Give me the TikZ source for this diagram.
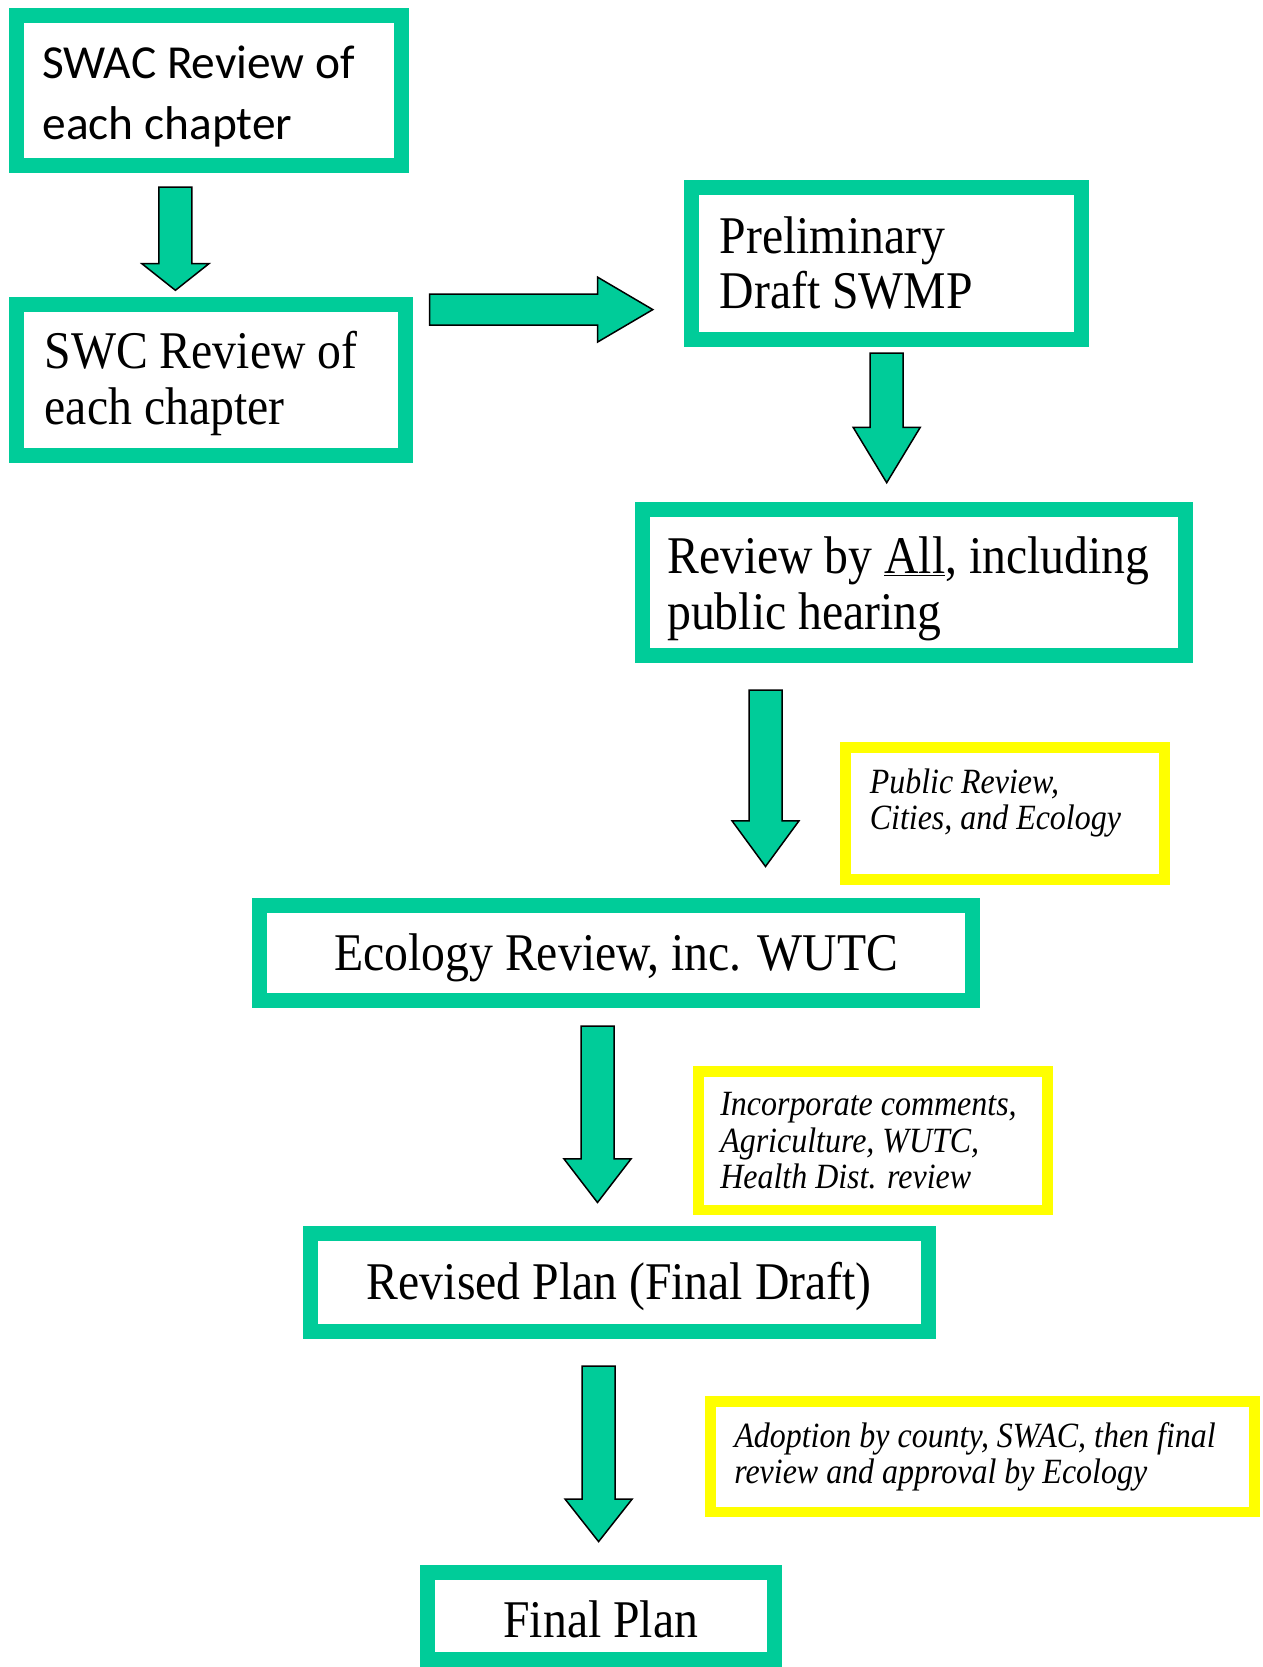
\documentclass[tikz,border=0pt]{standalone}
\usepackage{fontspec}
\setmainfont[FakeStretch=0.9]{Liberation Serif}
\newfontfamily\calibrifont{Carlito}
\usepackage{tikz}
\usetikzlibrary{calc}

\definecolor{stagegreen}{RGB}{0,204,153}
\definecolor{noteyellow}{RGB}{255,255,0}

\tikzset{
  stagebox/.style={draw=stagegreen, line width=15pt, rectangle, inner ysep=0pt,
    font=\fontsize{53}{55.5}\selectfont},
  notebox/.style={draw=noteyellow, line width=10.6pt, rectangle, inner ysep=0pt,
    align=flush left, font=\fontsize{35.5}{36.5}\selectfont\itshape},
  textdown/.style={execute at begin node={\rule{0pt}{#1}}},
  textup/.style={execute at end node={\par\vspace*{#1}}},
  blockarrow/.style={fill=stagegreen, draw=black, line width=1.5pt, line join=miter}
}

% block arrow pointing down: start, tip, head length
\newcommand{\blockdown}[3]{%
  \draw[blockarrow] let \p1=(#1), \p2=(#2) in
    (\x1-16.5pt,\y1) -- (\x1+16.5pt,\y1) -- (\x1+16.5pt,\y2+#3pt)
    -- (\x1+33.5pt,\y2+#3pt) -- (\x2,\y2) -- (\x1-33.5pt,\y2+#3pt)
    -- (\x1-16.5pt,\y2+#3pt) -- cycle;}

\begin{document}
\hyphenpenalty=10000
\begin{tikzpicture}[x=1pt, y=-1pt]
	\useasboundingbox (0,0) rectangle (1262,1667);

	% Drawing the stage boxes
	\node[stagebox, align=flush left, inner xsep=26.5pt, text width=332.8pt, minimum height=149.8pt,
	  textdown=44.3pt, font=\calibrifont\fontsize{47.4}{61}\selectfont] (swac) at (208.9,90.9)
	  {SWAC Review of\\each chapter};
	\node[stagebox, align=flush left, inner xsep=28.7pt, text width=331.6pt, minimum height=150.9pt,
	  textdown=44.8pt] (swc) at (210.5,379.6) {SWC Review of\\each chapter};
	\node[stagebox, align=flush left, inner xsep=28.7pt, text width=332.7pt, minimum height=151.9pt]
	  (prelim) at (886.2,263.2) {Preliminary\\Draft SWMP};
	\node[stagebox, align=flush left, inner xsep=25pt, text width=493.2pt, minimum height=146.6pt,
	  textdown=49pt] (all) at (913.8,582.6) {Review by \underline{All}, including\\public hearing};
	\node[stagebox, minimum width=713.3pt, minimum height=94.5pt, text height=46.5pt, text depth=11.5pt]
	  (ecology) at (616.2,953.2) {Ecology Review, inc. WUTC};
	\node[stagebox, minimum width=617.6pt, minimum height=97.7pt, text height=46.5pt, text depth=11.5pt]
	  (revised) at (619.3,1282.3) {Revised Plan (Final Draft)};
	\node[stagebox, minimum width=346.5pt, minimum height=87pt, text height=42pt, text depth=0pt]
	  (final) at (600.8,1616) {Final Plan};

	% Drawing the notes
	\node[notebox, inner xsep=24.4pt, text width=270pt, minimum height=132pt, textup=21pt]
	  (publicnote) at (1004.8,813.3) {Public Review,\\Cities, and Ecology};
	\node[notebox, inner xsep=22pt, text width=305pt, minimum height=138.2pt]
	  (commentnote) at (872.8,1140.8) {Incorporate comments,\\Agriculture, WUTC,\\Health Dist. review};
	\node[notebox, inner xsep=24pt, text width=496.4pt, minimum height=110.6pt]
	  (adoptnote) at (982.5,1456.6) {Adoption by county, SWAC, then final\\review and approval by Ecology};

	% Drawing the arrow ends
	\coordinate (a1s) at (175.4,187);
	\coordinate (a1t) at (175.4,290.3);
	\coordinate (a2s) at (429.5,309.6);
	\coordinate (a2t) at (652.8,309.6);
	\coordinate (a3s) at (886.7,353);
	\coordinate (a3t) at (886.7,482.7);
	\coordinate (a4s) at (765.5,690);
	\coordinate (a4t) at (765.5,866.5);
	\coordinate (a5s) at (597.5,1026);
	\coordinate (a5t) at (597.5,1202.5);
	\coordinate (a6s) at (598.6,1366.2);
	\coordinate (a6t) at (598.6,1541.6);

	% Drawing the block arrows
	\blockdown{a1s}{a1t}{26.6}
	\draw[blockarrow] let \p1=(a2s), \p2=(a2t) in
	  (\x1,\y1+15.4pt) -- (\x2-55.3pt,\y1+15.4pt) -- (\x2-55.3pt,\y1+32.5pt) -- (\x2,\y2)
	  -- (\x2-55.3pt,\y1-32.5pt) -- (\x2-55.3pt,\y1-15.4pt) -- (\x1,\y1-15.4pt) -- cycle;
	\blockdown{a3s}{a3t}{55.3}
	\blockdown{a4s}{a4t}{45.7}
	\blockdown{a5s}{a5t}{43.6}
	\blockdown{a6s}{a6t}{42.5}
\end{tikzpicture}
\end{document}
